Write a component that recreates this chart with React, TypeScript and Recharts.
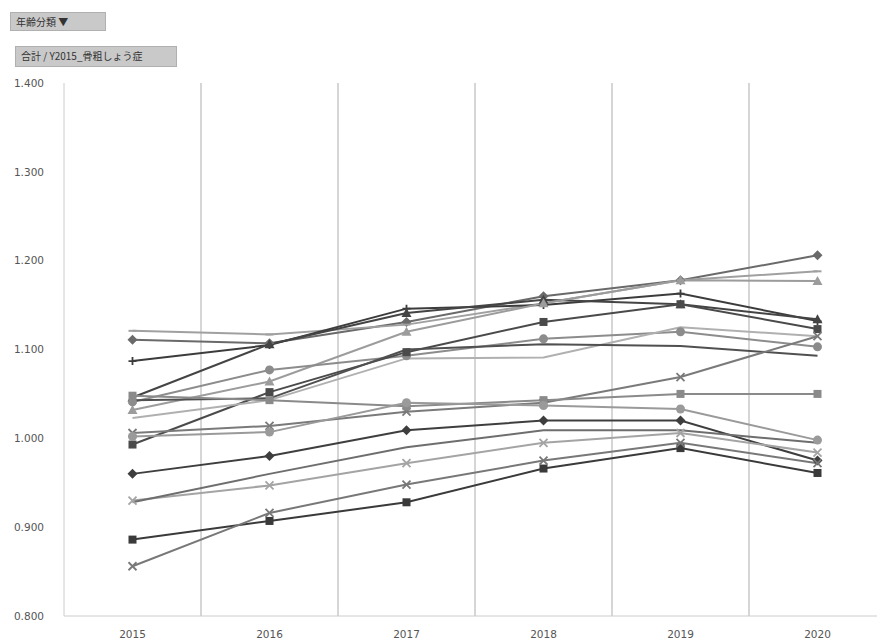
import { LineChart, Line, XAxis, YAxis, ReferenceLine } from "recharts";

// 年度 (x軸)
const years = ["2015", "2016", "2017", "2018", "2019", "2020"];
const yTicks = [0.8, 0.9, 1.0, 1.1, 1.2, 1.3, 1.4];
const gridX = [0.5, 1.5, 2.5, 3.5, 4.5, 5.5];

// 各系列の値 (2015〜2020)
const s01 = [1.111, 1.107, 1.131, 1.16, 1.178, 1.206];
const s02 = [1.121, 1.117, 1.128, 1.152, 1.178, 1.188];
const s03 = [1.087, 1.105, 1.146, 1.15, 1.163, 1.132];
const s04 = [1.046, 1.106, 1.141, 1.156, 1.151, 1.134];
const s05 = [1.032, 1.064, 1.12, 1.152, 1.178, 1.177];
const s06 = [1.041, 1.077, 1.093, 1.112, 1.12, 1.103];
const s07 = [0.993, 1.052, 1.097, 1.131, 1.151, 1.123];
const s08 = [1.023, 1.043, 1.09, 1.091, 1.125, 1.115];
const s09 = [1.043, 1.045, 1.1, 1.106, 1.104, 1.093];
const s10 = [1.006, 1.014, 1.03, 1.04, 1.069, 1.115];
const s11 = [1.048, 1.043, 1.036, 1.043, 1.05, 1.05];
const s12 = [1.002, 1.007, 1.04, 1.037, 1.033, 0.998];
const s13 = [0.96, 0.98, 1.009, 1.02, 1.02, 0.975];
const s14 = [0.93, 0.947, 0.972, 0.995, 1.006, 0.984];
const s15 = [0.928, 0.96, 0.99, 1.009, 1.009, 0.995];
const s16 = [0.886, 0.907, 0.928, 0.966, 0.989, 0.961];
const s17 = [0.856, 0.916, 0.948, 0.975, 0.995, 0.972];

const series = [
  { key: "s01", values: s01, color: "#6a6a6a", shape: "diamond" },
  { key: "s02", values: s02, color: "#a0a0a0", shape: "dash" },
  { key: "s03", values: s03, color: "#3c3c3c", shape: "plus" },
  { key: "s04", values: s04, color: "#444444", shape: "triangle" },
  { key: "s05", values: s05, color: "#9c9c9c", shape: "triangle" },
  { key: "s06", values: s06, color: "#8c8c8c", shape: "circle" },
  { key: "s07", values: s07, color: "#4a4a4a", shape: "square" },
  { key: "s08", values: s08, color: "#b0b0b0", shape: "none" },
  { key: "s09", values: s09, color: "#505050", shape: "none" },
  { key: "s10", values: s10, color: "#7a7a7a", shape: "x" },
  { key: "s11", values: s11, color: "#8a8a8a", shape: "square" },
  { key: "s12", values: s12, color: "#9a9a9a", shape: "circle" },
  { key: "s13", values: s13, color: "#3e3e3e", shape: "diamond" },
  { key: "s14", values: s14, color: "#a4a4a4", shape: "x" },
  { key: "s15", values: s15, color: "#6e6e6e", shape: "none" },
  { key: "s16", values: s16, color: "#3a3a3a", shape: "square" },
  { key: "s17", values: s17, color: "#787878", shape: "x" },
];

const data = years.map((y, i) => {
  const row: Record<string, number | string> = { idx: i, year: y };
  series.forEach((s) => {
    row[s.key] = s.values[i];
  });
  return row;
});

const Marker = ({ cx, cy, shape, color }: any) => {
  if (cx == null || cy == null) return null;
  const r = 4;
  switch (shape) {
    case "diamond":
      return <path d={`M${cx},${cy - r - 1}L${cx + r + 1},${cy}L${cx},${cy + r + 1}L${cx - r - 1},${cy}Z`} fill={color} />;
    case "square":
      return <rect x={cx - r} y={cy - r} width={r * 2} height={r * 2} fill={color} />;
    case "triangle":
      return <path d={`M${cx},${cy - r - 1}L${cx + r + 1},${cy + r}L${cx - r - 1},${cy + r}Z`} fill={color} />;
    case "circle":
      return <circle cx={cx} cy={cy} r={r + 0.5} fill={color} />;
    case "x":
      return (
        <path d={`M${cx - r},${cy - r}L${cx + r},${cy + r}M${cx - r},${cy + r}L${cx + r},${cy - r}`} stroke={color} strokeWidth={1.8} />
      );
    case "plus":
      return <path d={`M${cx - r},${cy}L${cx + r},${cy}M${cx},${cy - r}L${cx},${cy + r}`} stroke={color} strokeWidth={1.8} />;
    case "dash":
      return <path d={`M${cx - r},${cy}L${cx + r},${cy}`} stroke={color} strokeWidth={2} />;
    default:
      return null;
  }
};

const boxStyle = {
  position: "absolute" as const,
  background: "#c9c9c9",
  border: "1px solid #b0b0b0",
  fontFamily: "'Noto Sans CJK JP', sans-serif",
  fontSize: 10,
  color: "#333",
  lineHeight: "18px",
  paddingLeft: 5,
  boxSizing: "border-box" as const,
};

const tickStyle = { fill: "#555", fontSize: 10.5, fontFamily: "DejaVu Sans" };

export default function App() {
  return (
    <div style={{ position: "absolute", left: 0, top: 0, width: 877, height: 641, overflow: "hidden", background: "#fff" }}>
      <LineChart width={900} height={641} data={data} margin={{ top: 83, right: 14, bottom: 0, left: 8 }}>
        <XAxis
          dataKey="idx"
          type="number"
          domain={[-0.5, 5.5]}
          ticks={[0, 1, 2, 3, 4, 5]}
          tickFormatter={(v) => years[v]}
          axisLine={{ stroke: "#cccccc" }}
          tickLine={false}
          height={25}
          tick={tickStyle}
          tickMargin={9}
        />
        <YAxis
          type="number"
          domain={[0.8, 1.4]}
          ticks={yTicks}
          tickFormatter={(v) => v.toFixed(3)}
          axisLine={{ stroke: "#cccccc" }}
          tickLine={false}
          width={56}
          tick={tickStyle}
          tickMargin={14}
        />
        {gridX.map((g) => (
          <ReferenceLine key={g} x={g} stroke="#d6d6d6" strokeWidth={2} />
        ))}
        {series.map((s) => (
          <Line
            key={s.key}
            dataKey={s.key}
            stroke={s.color}
            strokeWidth={2}
            isAnimationActive={false}
            dot={(p: any) => <Marker key={`${s.key}-${p.index}`} cx={p.cx} cy={p.cy} shape={s.shape} color={s.color} />}
            activeDot={false}
          />
        ))}
      </LineChart>
      <div style={{ ...boxStyle, left: 10, top: 12, width: 96, height: 19 }}>年齢分類 ▼</div>
      <div style={{ ...boxStyle, left: 15, top: 46, width: 162, height: 21 }}>合計 / Y2015_骨粗しょう症</div>
    </div>
  );
}
